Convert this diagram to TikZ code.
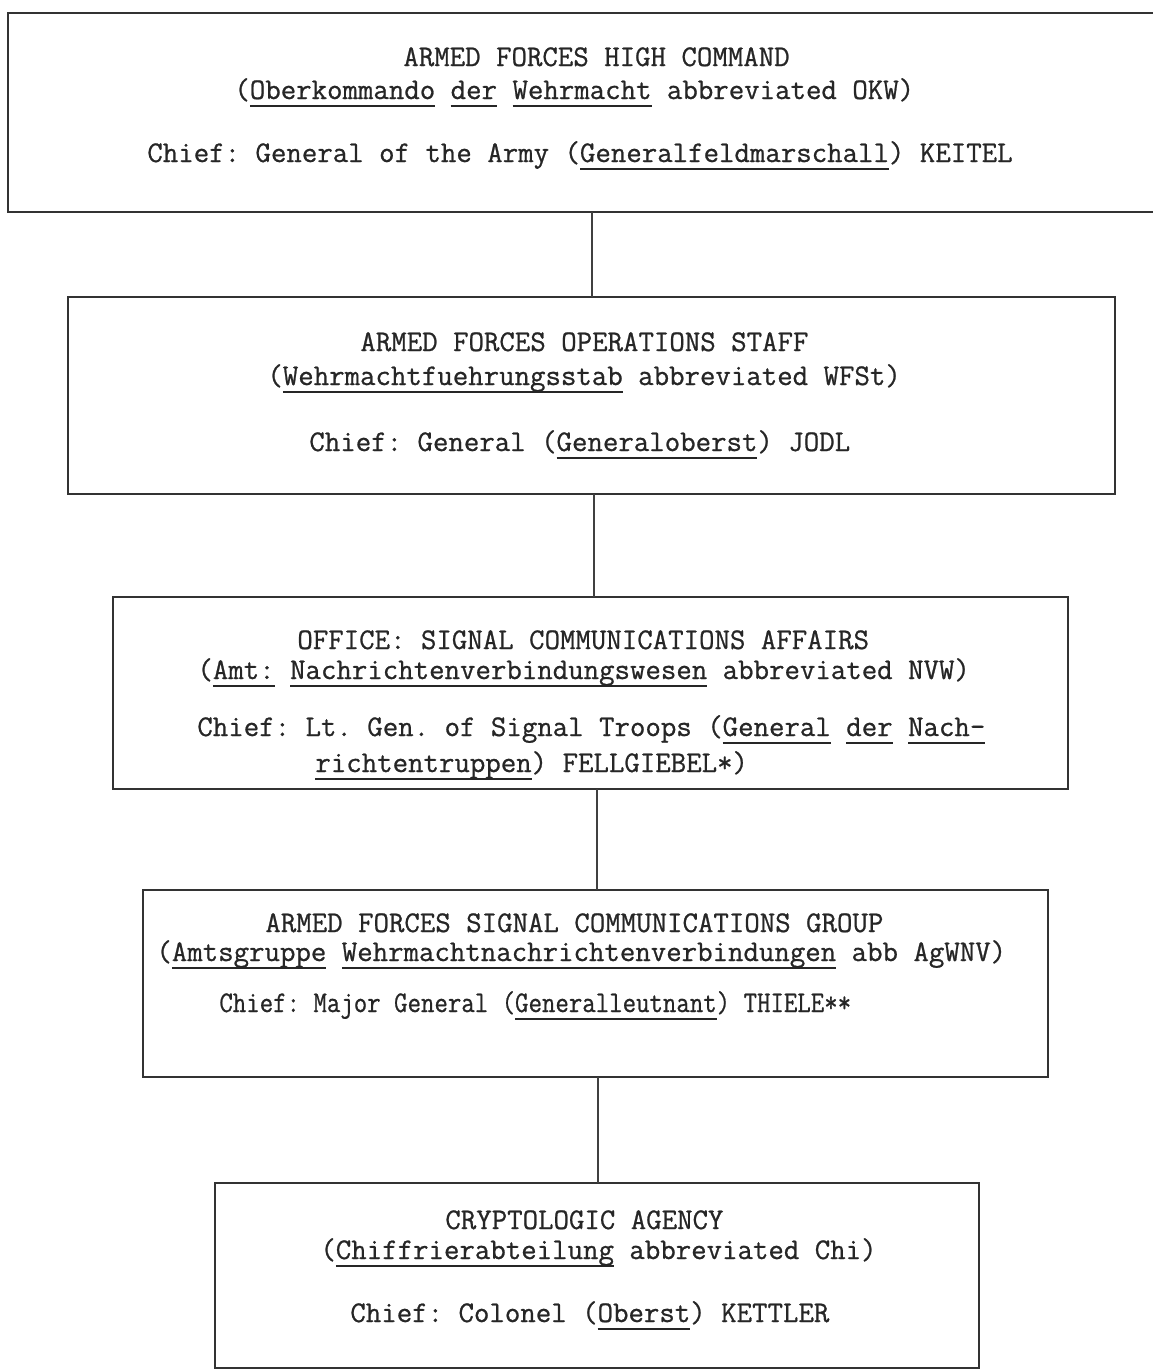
\documentclass[tikz,border=0pt]{standalone}
\usepackage{fontspec}
\usepackage{graphicx}
\newfontfamily\tw[FakeBold=0.8]{Latin Modern Mono}
\newcommand\ulw[1]{\setbox0\hbox{#1}\rlap{\vrule height -3.0pt depth 4.0pt width\wd0}\box0\relax}
\tikzset{
  box/.style={draw=black!80, line width=1pt, anchor=north west, inner sep=0pt, outer sep=0pt},
  txt/.style={anchor=base west, inner sep=0pt, font=\tw\frenchspacing\fontsize{15}{18}\selectfont, text=black!85},
  conn/.style={draw=black!75, line width=0.8pt}
}
\begin{document}
\begin{tikzpicture}[x=0.5pt, y=-0.5pt]
\useasboundingbox (0,0) rectangle (1152,1371);
% boxes
\node[box, minimum width=576pt,   minimum height=99.5pt] (b1) at (8,13) {};
\node[box, minimum width=523.5pt, minimum height=98.5pt] (b2) at (68,297) {};
\node[box, minimum width=477.5pt, minimum height=96pt]   (b3) at (113,597) {};
\node[box, minimum width=452.5pt, minimum height=93.5pt] (b4) at (143,890) {};
\node[box, minimum width=382pt,   minimum height=92.5pt] (b5) at (215,1183) {};
% connectors
\coordinate (k1) at (592,0);
\coordinate (k2) at (594,0);
\coordinate (k3) at (597,0);
\coordinate (k4) at (598,0);
\draw[conn] (b1.south -| k1) -- (b2.north -| k1);
\draw[conn] (b2.south -| k2) -- (b3.north -| k2);
\draw[conn] (b3.south -| k3) -- (b4.north -| k3);
\draw[conn] (b4.south -| k4) -- (b5.north -| k4);
% box 1
\node[txt] (t1a) at (403,66) {ARMED FORCES HIGH COMMAND};
\node[txt] (t1b) at (234,99) {(\ulw{Oberkommando} \ulw{der} \ulw{Wehrmacht} abbreviated OKW)};
\node[txt] (t1c) at (147,162) {Chief: General of the Army (\ulw{Generalfeldmarschall}) KEITEL};
% box 2
\node[txt] (t2a) at (360,351) {ARMED FORCES OPERATIONS STAFF};
\node[txt] (t2b) at (267,385) {(\ulw{Wehrmachtfuehrungsstab} abbreviated WFSt)};
\node[txt] (t2c) at (309,451) {Chief: General (\ulw{Generaloberst}) JODL};
% box 3
\node[txt] (t3a) at (297,649) {OFFICE: SIGNAL COMMUNICATIONS AFFAIRS};
\node[txt] (t3b) at (197,679) {(\ulw{Amt:} \ulw{Nachrichtenverbindungswesen} abbreviated NVW)};
\node[txt] (t3c) at (197,736) {Chief: Lt. Gen. of Signal Troops (\ulw{General} \ulw{der} \ulw{Nach-}};
\node[txt] (t3d) at (315,772) {\ulw{richtentruppen}) FELLGIEBEL*)};
% box 4
\node[txt] (t4a) at (265,932) {ARMED FORCES SIGNAL COMMUNICATIONS GROUP};
\node[txt] (t4b) at (156,961) {(\ulw{Amtsgruppe} \ulw{Wehrmachtnachrichtenverbindungen} abb AgWNV)};
\node[txt] (t4c) at (219,1012) {\scalebox{0.87}[1]{Chief: Major General (\ulw{Generalleutnant}) THIELE**}};
% box 5
\node[txt] (t5a) at (445,1229) {CRYPTOLOGIC AGENCY};
\node[txt] (t5b) at (320,1259) {(\ulw{Chiffrierabteilung} abbreviated Chi)};
\node[txt] (t5c) at (350,1322) {Chief: Colonel (\ulw{Oberst}) KETTLER};
\end{tikzpicture}
\end{document}
